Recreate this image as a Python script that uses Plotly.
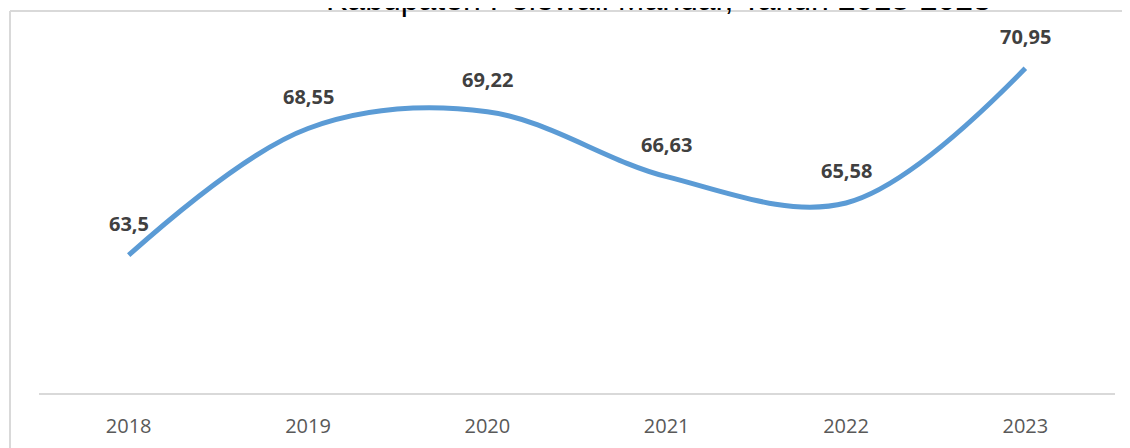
import plotly.graph_objects as go

years = ["2018", "2019", "2020", "2021", "2022", "2023"]
values = [63.5, 68.55, 69.22, 66.63, 65.58, 70.95]
labels = ["63,5", "68,55", "69,22", "66,63", "65,58", "70,95"]
title_text = "Kabupaten Polewali Mandar, Tahun 2018-2023"

W, H = 1130, 448
OFF = 8  # page body margin offset
ML, MR, MT, MB = 39 - OFF, 23, 42 - OFF, 63
PW, PH = W - ML - MR, H - MT - MB

def px_x(p):
    return (p - OFF - ML) / PW

def px_y(p):
    return (H - MB - (p - OFF)) / PH

fig = go.Figure()
fig.add_trace(go.Scatter(
    x=years, y=values, mode="lines",
    line=dict(color="#5B9BD5", width=5, shape="spline", smoothing=1.0),
    hoverinfo="skip", showlegend=False,
))

for i, (v, lab) in enumerate(zip(values, labels)):
    fig.add_annotation(
        x=i, y=v, text=f"<b>{lab}</b>", showarrow=False,
        yshift=32, yanchor="middle", xanchor="center",
        font=dict(family="Open Sans", size=20, color="#404040"),
    )

fig.add_annotation(
    xref="paper", yref="paper", x=px_x(658), y=px_y(-1.5),
    text=title_text, showarrow=False, xanchor="center", yanchor="middle",
    font=dict(family="Liberation Sans, Arial", size=32, color="#000000"),
)

border = dict(color="#D9D9D9", width=2)
fig.add_shape(type="line", xref="paper", yref="paper",
              x0=px_x(10), x1=px_x(10), y0=px_y(11), y1=px_y(470), line=border)
fig.add_shape(type="line", xref="paper", yref="paper",
              x0=px_x(10), x1=px_x(1150), y0=px_y(11), y1=px_y(11), line=border)

fig.update_layout(
    width=W, height=H,
    margin=dict(l=ML, r=MR, t=MT, b=MB),
    paper_bgcolor="white", plot_bgcolor="white",
    xaxis=dict(
        type="category", range=[-0.5, 5.5], showgrid=False, zeroline=False,
        showline=True, linecolor="#D9D9D9", linewidth=2, ticks="",
        tickfont=dict(family="Open Sans", size=20, color="#595959"),
        ticklabelstandoff=14,
    ),
    yaxis=dict(range=[58, 72], visible=False, showgrid=False, zeroline=False),
)

fig.write_html("out.html")
